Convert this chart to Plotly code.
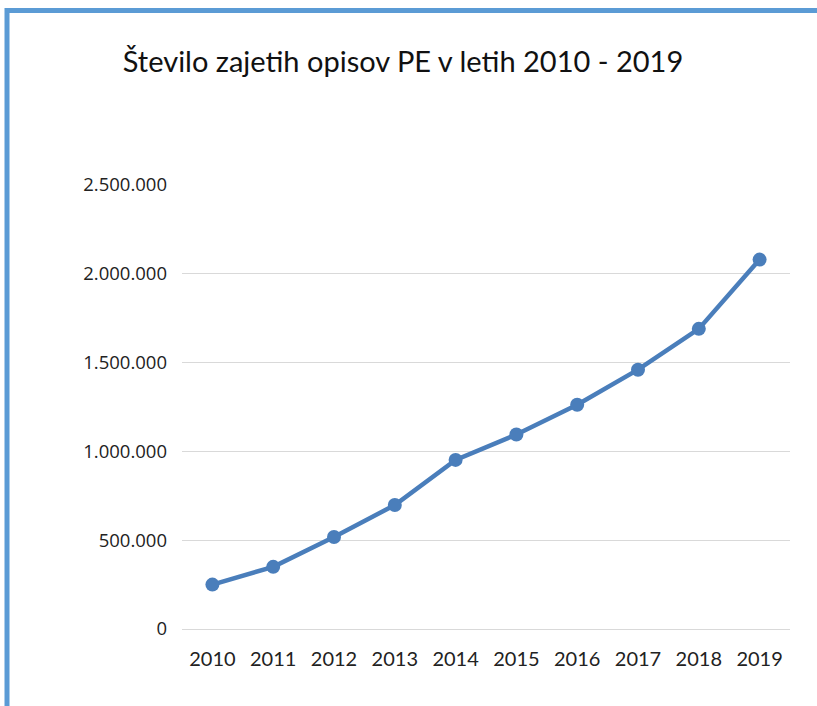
import plotly.graph_objects as go

years = ["2010", "2011", "2012", "2013", "2014", "2015", "2016", "2017", "2018", "2019"]
values = [250000, 350000, 518000, 698000, 952000, 1095000, 1263000, 1460000, 1690000, 2080000]
title_text = "Število zajetih opisov PE v letih 2010 - 2019"

W, H = 817, 706
L, R, T, B = 182, 27, 185, 77
pw, ph = W - L - R, H - T - B

def px_x(x):
    return (x - L) / pw

def px_y(y):
    return (H - B - y) / ph

fig = go.Figure()
fig.add_trace(go.Scatter(
    x=years, y=values, mode="lines+markers",
    line=dict(color="#4A7EBB", width=4.5),
    marker=dict(color="#4A7EBB", size=14),
    showlegend=False, hoverinfo="x+y",
))

border = "#5B9BD5"
fig.add_shape(type="line", xref="paper", yref="paper",
              x0=px_x(5), x1=px_x(830), y0=px_y(10.5), y1=px_y(10.5),
              line=dict(color=border, width=5))
fig.add_shape(type="line", xref="paper", yref="paper",
              x0=px_x(7), x1=px_x(7), y0=px_y(8), y1=px_y(720),
              line=dict(color=border, width=5))

fig.update_layout(
    width=W, height=H,
    margin=dict(l=L, r=R, t=T, b=B),
    paper_bgcolor="white", plot_bgcolor="white",
    separators=",.",
    title=dict(text=title_text, x=403 / W, xanchor="center",
               y=1 - 62 / H, yanchor="middle",
               font=dict(family="Lato, sans-serif", size=29, color="#111111")),
    xaxis=dict(type="category", range=[-0.5, len(years) - 0.5],
               showgrid=False, showline=False, zeroline=False,
               ticks="", tickfont=dict(family="Lato, sans-serif", size=20, color="#222222"),
               ticklabelstandoff=16),
    yaxis=dict(range=[0, 2500000], dtick=500000, tickformat=",d",
               showgrid=True, gridcolor="#D9D9D9", gridwidth=1,
               zeroline=True, zerolinecolor="#D9D9D9", zerolinewidth=1,
               showline=False, ticks="",
               tickfont=dict(family="Open Sans, sans-serif", size=18.5, color="#222222"),
               ticklabelstandoff=14),
)

fig.write_html("out.html", config={"displayModeBar": False},
               post_script="document.body.style.margin='0';")
